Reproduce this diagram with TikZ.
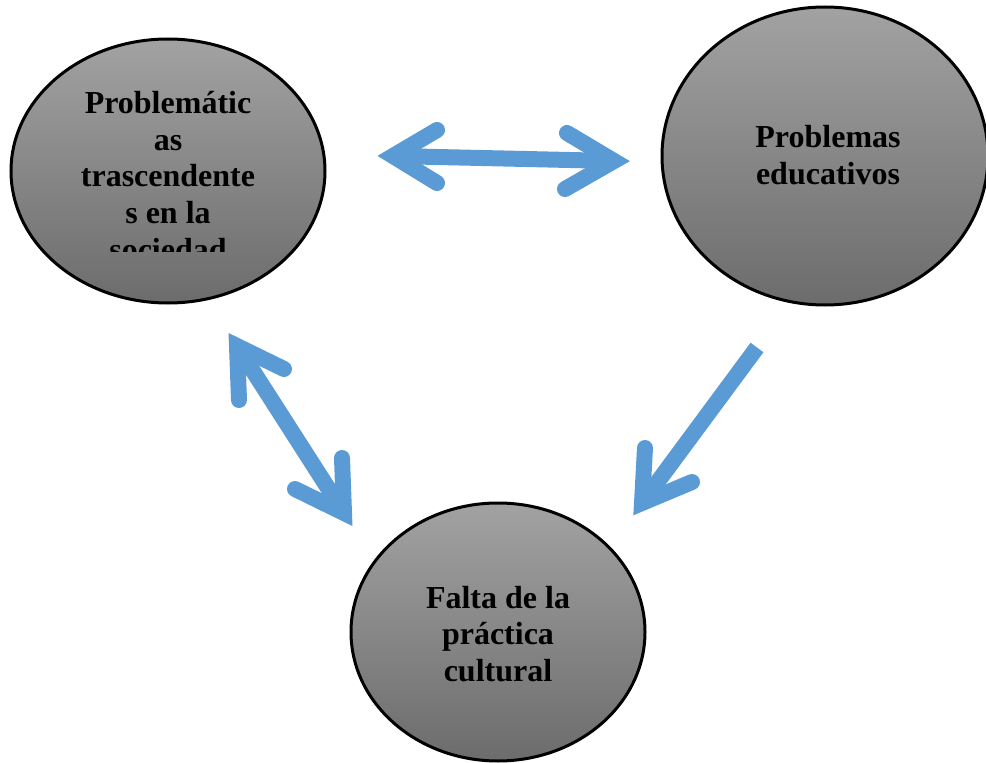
\documentclass[tikz,border=0pt]{standalone}
\usepackage{fontspec}
\setmainfont{Liberation Serif}
\usetikzlibrary{shapes.geometric}
\definecolor{arrowblue}{HTML}{5B9BD5}
\definecolor{gtop}{RGB}{162,162,162}
\definecolor{gbot}{RGB}{108,108,108}
\tikzset{
  bubble/.style={ellipse, draw=black, line width=2.25pt, top color=gtop, bottom color=gbot, inner sep=0pt},
  bubbletext/.style={font=\fontsize{24}{27.5}\selectfont\bfseries, align=center, inner sep=0pt, text=black},
  barb/.style={draw=arrowblue, line width=12pt, line cap=round, line join=miter},
  shaft/.style={draw=arrowblue, line width=12pt, line cap=butt},
}
\begin{document}
\begin{tikzpicture}[x=0.75pt, y=-0.75pt]
\useasboundingbox (0,0) rectangle (986,763);
% ellipses
\node[bubble, minimum width=314*0.75pt, minimum height=264*0.75pt] (soc) at (168,171) {};
\node[bubble, minimum width=326*0.75pt, minimum height=298*0.75pt] (edu) at (825,156) {};
\node[bubble, minimum width=294*0.75pt, minimum height=258*0.75pt] (cul) at (498,632) {};
% texts
\begin{scope}
  \clip (0,0) rectangle (986,252);
  \node[bubbletext] (soct) at (168,176) {Problemátic\\as\\trascendente\\s en la\\sociedad};
\end{scope}
\node[bubbletext] (edut) at (828,155) {Problemas\\educativos};
\node[bubbletext] (cult) at (498,634) {Falta de la\\práctica\\cultural};
% horizontal double arrow
\coordinate (hl) at (393,156);
\coordinate (hla) at (437,130);
\coordinate (hlb) at (437,183);
\coordinate (hr) at (614,161);
\coordinate (hra) at (567,133);
\coordinate (hrb) at (565,189);
\draw[shaft] (hl) -- (hr);
\draw[barb] (hla) -- (hl) -- (hlb);
\draw[barb] (hra) -- (hr) -- (hrb);
% left diagonal double arrow
\coordinate (dt) at (237,346);
\coordinate (dta) at (284,369);
\coordinate (dtb) at (239,400);
\coordinate (db) at (344,513);
\coordinate (dba) at (342,458);
\coordinate (dbb) at (295,489);
\draw[shaft] (dt) -- (db);
\draw[barb] (dta) -- (dt) -- (dtb);
\draw[barb] (dba) -- (db) -- (dbb);
% right diagonal single arrow
\coordinate (st) at (757,347.5);
\coordinate (sv) at (642,503);
\coordinate (sva) at (645,448);
\coordinate (svb) at (692,482);
\draw[shaft] (st) -- (sv);
\draw[barb] (sva) -- (sv) -- (svb);
\end{tikzpicture}
\end{document}
